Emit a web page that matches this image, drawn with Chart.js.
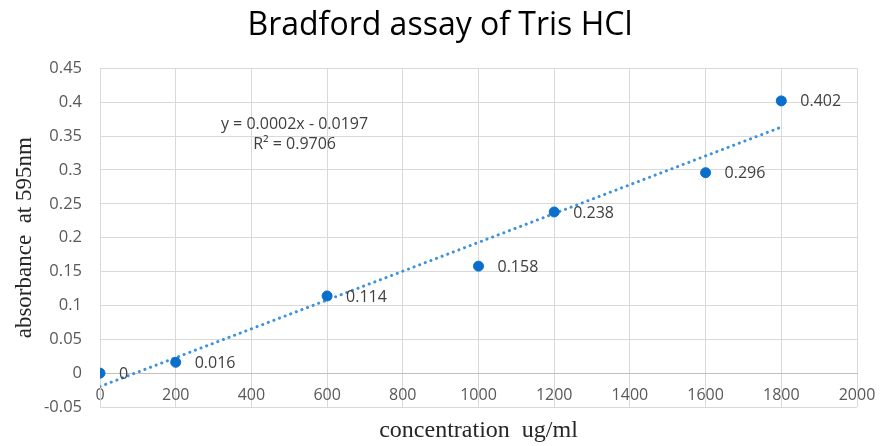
<!DOCTYPE html>
<html>
<head>
<meta charset="utf-8">
<script src="https://cdn.jsdelivr.net/npm/chart.js@4/dist/chart.umd.min.js"></script>
<style>
html,body{margin:0;padding:0;background:#fff;}
#wrap{width:880px;height:446px;position:relative;}
</style>
</head>
<body>
<div id="wrap"><canvas id="c" width="880" height="446"></canvas></div>
<script>
// ---- data ----
const concentration = [0, 200, 600, 1000, 1200, 1600, 1800];
const absorbance = [0, 0.016, 0.114, 0.158, 0.238, 0.296, 0.402];
const pointLabels = ['0', '0.016', '0.114', '0.158', '0.238', '0.296', '0.402'];
const trendX = [0, 1800];
const trendY = [-0.0197, 0.3633];
const equationLines = ['y = 0.0002x - 0.0197', 'R² = 0.9706'];
const chartTitle = 'Bradford assay of Tris HCl';
const xTitle = 'concentration  ug/ml';
const yTitle = 'absorbance  at 595nm';
const xTicks = {min: 0, max: 2000, step: 200};
const yTicks = {min: -0.05, max: 0.45, step: 0.05};

const pointColor = '#0A6FCB';
const trendColor = '#3D92DE';

const labelPlugin = {
  id: 'pointLabels',
  afterDatasetsDraw(chart) {
    const ctx = chart.ctx;
    const meta = chart.getDatasetMeta(1);
    ctx.save();
    ctx.font = '16px "Open Sans", sans-serif';
    ctx.fillStyle = '#404040';
    ctx.textAlign = 'left';
    ctx.textBaseline = 'middle';
    meta.data.forEach((el, i) => {
      ctx.fillText(pointLabels[i], el.x + 19, el.y + 1);
    });
    // trendline equation
    const xs = chart.scales.x, ys = chart.scales.y;
    const ex = xs.getPixelForValue(514);
    const ey = ys.getPixelForValue(0.367);
    ctx.font = '16px "Open Sans", sans-serif';
    ctx.fillStyle = '#404040';
    ctx.textAlign = 'center';
    equationLines.forEach((t, i) => ctx.fillText(t, ex, ey + i * 20));
    ctx.restore();
  }
};

new Chart(document.getElementById('c'), {
  type: 'scatter',
  data: {
    datasets: [
      {
        label: 'trend',
        type: 'line',
        data: trendX.map((x, i) => ({x, y: trendY[i]})),
        borderColor: trendColor,
        borderWidth: 3,
        borderDash: [0.1, 5.9],
        borderCapStyle: 'round',
        pointRadius: 0,
        fill: false,
        order: 2
      },
      {
        label: 'absorbance',
        data: concentration.map((x, i) => ({x, y: absorbance[i]})),
        backgroundColor: pointColor,
        borderColor: pointColor,
        pointRadius: 5,
        pointHoverRadius: 5,
        order: 1
      }
    ]
  },
  options: {
    responsive: false,
    animation: false,
    events: [],
    layout: {padding: {left: 0, right: 0, top: 0, bottom: 0}},
    plugins: {
      legend: {display: false},
      tooltip: {enabled: false},
      title: {
        display: true,
        text: chartTitle,
        color: '#000',
        font: {family: '"Open Sans", sans-serif', size: 32, weight: 'normal', lineHeight: 1.2},
        padding: {top: 7, bottom: 23}
      }
    },
    scales: {
      x: {
        type: 'linear',
        position: {y: 0},
        min: xTicks.min, max: xTicks.max,
        ticks: {
          stepSize: xTicks.step,
          color: '#595959',
          font: {family: '"Open Sans", sans-serif', size: 16},
          padding: 13,
          maxRotation: 0,
          autoSkip: false,
          callback: v => String(v)
        },
        grid: {color: '#d9d9d9', drawTicks: false, lineWidth: 1},
        border: {display: true, color: '#bfbfbf', width: 1},
        afterFit(s) { s.paddingLeft = 0; s.paddingRight = 23; }
      },
      xt: {
        type: 'linear',
        position: 'bottom',
        display: true,
        min: xTicks.min, max: xTicks.max,
        ticks: {display: false},
        grid: {display: false, drawTicks: false},
        border: {display: false},
        title: {
          display: true,
          text: xTitle,
          color: '#262626',
          font: {family: '"Liberation Serif", serif', size: 24},
          padding: {top: 0, bottom: 1}
        },
        afterFit(s) { s.height = 39; s.paddingLeft = 0; s.paddingRight = 0; }
      },
      y: {
        type: 'linear',
        position: 'left',
        min: yTicks.min, max: yTicks.max,
        ticks: {
          stepSize: yTicks.step,
          color: '#595959',
          font: {family: '"Open Sans", sans-serif', size: 16.5},
          padding: 18,
          callback: v => String(+v.toFixed(2))
        },
        grid: {
          color: '#d9d9d9',
          drawTicks: false,
          lineWidth: 1
        },
        border: {display: true, color: '#d9d9d9'},
        title: {
          display: true,
          text: yTitle,
          color: '#262626',
          font: {family: '"Liberation Serif", serif', size: 23},
          padding: {top: 11, bottom: 0}
        },
        afterFit(s) { s.width = 100; }
      }
    }
  },
  plugins: [labelPlugin]
});
</script>
</body>
</html>
